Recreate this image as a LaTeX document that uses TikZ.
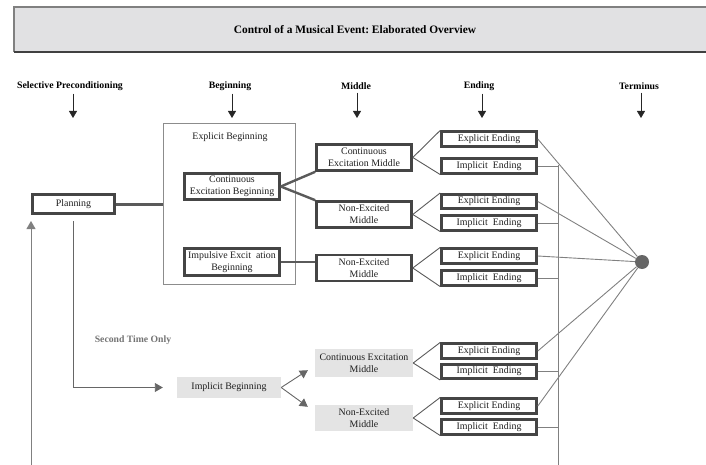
\documentclass[tikz,border=0pt]{standalone}
\usepackage{fontspec}
\setmainfont{Liberation Serif}
\usetikzlibrary{arrows.meta}
\frenchspacing

\definecolor{boxline}{HTML}{454545}
\definecolor{wire}{HTML}{808080}
\definecolor{darkwire}{HTML}{5A5A5A}
\definecolor{bandfill}{HTML}{E1E1E3}
\definecolor{softfill}{HTML}{E4E4E4}
\definecolor{termfill}{HTML}{666666}

\begin{document}
\begin{tikzpicture}[x=1pt,y=-1pt,
  txt/.style={font=\fontsize{9.9}{11.8}\selectfont, align=center, text=black!88},
  heavybox/.style={txt, draw=boxline, line width=2.6pt, inner sep=0pt},
  midbox/.style={heavybox, minimum width=95pt, minimum height=26pt},
  endbox/.style={heavybox, minimum width=95pt, minimum height=14.5pt},
  softbox/.style={txt, fill=softfill, inner sep=0pt},
  head/.style={font=\bfseries\fontsize{9.8}{11}\selectfont, inner sep=0pt},
  headarrow/.style={draw=black!85, line width=0.8pt, -{Triangle[width=8pt,length=7pt]}},
  wireline/.style={draw=wire, line width=0.9pt},
  forkline/.style={draw=darkwire, line width=0.9pt},
  thickline/.style={draw=darkwire, line width=2.4pt},
  grayarrow/.style={draw=wire, line width=0.9pt, -{Triangle[width=9pt,length=8pt]}},
]
\useasboundingbox (0,0) rectangle (706,465);

% title band
\fill[bandfill] (14,7) rectangle (706,52);
\draw[wire, line width=2pt] (14,52) -- (14,7) -- (706,7);
\draw[black!75, line width=1.4pt] (14,52) -- (706,52);
\node[font=\bfseries\fontsize{11.4}{13}\selectfont] (title) at (355,30)
  {Control of a Musical Event: Elaborated Overview};

% column headers with their arrows
\node[head] (hsp)  at (70,86)  {Selective Preconditioning};
\node[head] (hbeg) at (230,86) {Beginning};
\node[head] (hmid) at (356,86) {Middle};
\node[head] (hend) at (479,86) {Ending};
\node[head] (hter) at (639,86) {Terminus};
\coordinate (tsp)  at (73,118);
\coordinate (tbeg) at (232,118);
\coordinate (tmid) at (357,118);
\coordinate (tend) at (482,118);
\coordinate (tter) at (641,118);
\draw[headarrow] ([yshift=-3pt]hsp.south -| tsp) -- (tsp);
\draw[headarrow] ([yshift=-3pt]hbeg.south -| tbeg) -- (tbeg);
\draw[headarrow] ([yshift=-3pt]hmid.south -| tmid) -- (tmid);
\draw[headarrow] ([yshift=-3pt]hend.south -| tend) -- (tend);
\draw[headarrow] ([yshift=-3pt]hter.south -| tter) -- (tter);

% preconditioning
\node[heavybox, minimum width=82pt, minimum height=19.5pt] (plan) at (73.5,204) {Planning};

% explicit beginning group
\node[draw=black!45, line width=0.8pt, minimum width=132pt, minimum height=161pt, inner sep=0pt]
  (eb) at (229,203.5) {};
\node[txt] (ebtitle) at (230,137) {Explicit Beginning};
\node[heavybox, minimum width=95pt, minimum height=26.5pt] (ceb) at (232,186.5)
  {Continuous\\Excitation Beginning};
\node[heavybox, minimum width=95pt, minimum height=27pt] (ieb) at (232,262)
  {Impulsive Excit\ \ ation\\Beginning};

% middles
\node[midbox] (cem)  at (364,157.5) {Continuous\\Excitation Middle};
\node[midbox] (nem1) at (364,214.5) {Non-Excited\\Middle};
\node[midbox] (nem2) at (364,268)   {Non-Excited\\Middle};

% endings
\node[endbox] (e1) at (489,139)   {Explicit Ending};
\node[endbox] (i1) at (489,166)   {Implicit\ \ Ending};
\node[endbox] (e2) at (489,201.5) {Explicit Ending};
\node[endbox] (i2) at (489,223)   {Implicit\ \ Ending};
\node[endbox] (e3) at (489,256)   {Explicit Ending};
\node[endbox] (i3) at (489,278)   {Implicit\ \ Ending};
\node[endbox] (e4) at (489,351)   {Explicit Ending};
\node[endbox] (i4) at (489,371.5) {Implicit\ \ Ending};
\node[endbox] (e5) at (489,406)   {Explicit Ending};
\node[endbox] (i5) at (489,427)   {Implicit\ \ Ending};

% second-time path
\node[font=\bfseries\fontsize{9.7}{11}\selectfont, text=black!55] (second) at (133,340) {Second Time Only};
\node[softbox, minimum width=104pt, minimum height=21pt] (ib) at (229,387.5) {Implicit Beginning};
\node[softbox, minimum width=98pt, minimum height=28pt] (cem2) at (364,363)
  {Continuous Excitation\\Middle};
\node[softbox, minimum width=98pt, minimum height=26pt] (nem3) at (364,418)
  {Non-Excited\\Middle};

% terminus
\node[circle, fill=termfill, minimum size=14pt, inner sep=0pt] (term) at (642,262) {};

% connections of the first pass
\draw[thickline, line width=3pt] (plan.east) -- (plan.east -| eb.west);
\draw[thickline] (ceb.east) -- (cem.south west);
\draw[thickline] (ceb.east) -- (nem1.north west);
\draw[darkwire, line width=1.4pt] (ieb.east) -- (ieb.east -| nem2.west);

\foreach \m/\e/\i in {cem/e1/i1, nem1/e2/i2, nem2/e3/i3, cem2/e4/i4, nem3/e5/i5} {
  \draw[forkline] (\m.east) -- (\e.north west);
  \draw[forkline] (\m.east) -- (\i.south west);
}

% explicit endings run to the terminus
\foreach \e in {e1,e2,e3,e4,e5}
  \draw[wireline] (\e.east) -- (term);

% implicit endings join the return line
\coordinate (bustop)  at (558,165);
\coordinate (busfoot) at (558,465);
\draw[wireline] (bustop) -- (busfoot);
\foreach \i in {i1,i2,i3,i4,i5}
  \draw[wireline] (\i.east) -- (\i.east -| bustop);

% return to planning
\coordinate (loopfoot) at (31,465);
\coordinate (looptip)  at (31,221);
\draw[grayarrow] (loopfoot) -- (looptip);

% second time only: planning to implicit beginning
\coordinate (splitstart) at (73,221);
\draw[grayarrow, draw=black!60] (splitstart) |- ([xshift=-14pt]ib.west);
\draw[grayarrow, draw=black!60] (ib.east) -- ([xshift=-7pt,yshift=7pt]cem2.south west);
\draw[grayarrow, draw=black!60] (ib.east) -- ([xshift=-7pt,yshift=-2pt]nem3.north west);
\end{tikzpicture}
\end{document}
